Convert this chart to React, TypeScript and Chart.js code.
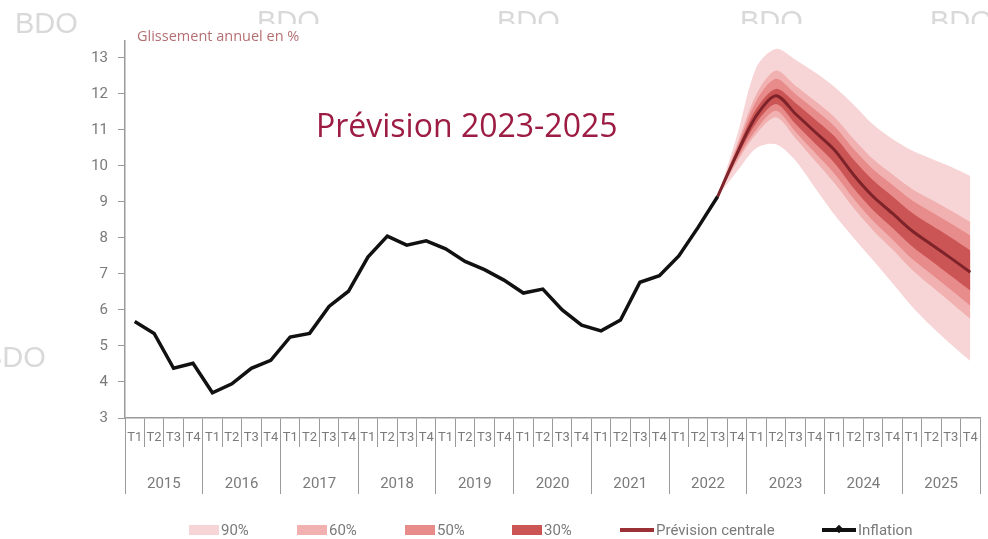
import React, { useEffect, useRef } from 'react';
import { Chart, registerables } from 'chart.js';

Chart.register(...registerables);

// ---------- data ----------
const years = ['2015', '2016', '2017', '2018', '2019', '2020', '2021', '2022', '2023', '2024', '2025'];
const quarters = ['T1', 'T2', 'T3', 'T4'];

// Observed inflation, T1 2015 .. T3 2022 (annual change, %)
const inflation = [
  5.68, 5.35, 4.38, 4.52,
  3.7, 3.95, 4.38, 4.6,
  5.25, 5.35, 6.1, 6.52,
  7.47, 8.05, 7.8, 7.92,
  7.7, 7.35, 7.12, 6.83,
  6.47, 6.58, 6.0, 5.58,
  5.42, 5.72, 6.77, 6.95,
  7.5, 8.3, 9.15,
];

// Forecast, T3 2022 .. T4 2025
const central = [9.15, 10.35, 11.4, 11.95, 11.45, 10.95, 10.45, 9.75, 9.15, 8.68, 8.2, 7.82, 7.44, 7.05];
const band90Up = [9.15, 10.85, 12.75, 13.25, 12.95, 12.6, 12.2, 11.7, 11.15, 10.75, 10.43, 10.2, 9.98, 9.72];
const band90Lo = [9.15, 9.85, 10.5, 10.6, 10.15, 9.4, 8.65, 8.0, 7.38, 6.74, 6.1, 5.55, 5.05, 4.58];
const band60Up = [9.15, 10.61, 12.0, 12.65, 12.23, 11.81, 11.36, 10.75, 10.19, 9.76, 9.36, 9.06, 8.76, 8.44];
const band60Lo = [9.15, 10.11, 10.9, 11.35, 10.77, 10.15, 9.53, 8.83, 8.21, 7.68, 7.12, 6.66, 6.21, 5.75];
const band50Up = [9.15, 10.53, 11.82, 12.42, 12.0, 11.57, 11.11, 10.47, 9.91, 9.47, 9.05, 8.72, 8.4, 8.07];
const band50Lo = [9.15, 10.18, 11.02, 11.53, 10.95, 10.37, 9.79, 9.09, 8.47, 7.96, 7.42, 6.99, 6.56, 6.12];
const band30Up = [9.15, 10.45, 11.6, 12.14, 11.75, 11.3, 10.83, 10.17, 9.6, 9.15, 8.7, 8.35, 8.01, 7.65];
const band30Lo = [9.15, 10.25, 11.2, 11.72, 11.17, 10.63, 10.09, 9.38, 8.77, 8.28, 7.77, 7.36, 6.95, 6.54];

const yMin = 3;
const yMax = 13.47;

const title = 'Prévision 2023-2025';
const unitLabel = 'Glissement annuel en %';
const legendLabels = ['90%', '60%', '50%', '30%', 'Prévision centrale', 'Inflation'];

// ---------- styles ----------
const C90 = '#f7d4d5';
const C60 = '#f1b1b1';
const C50 = '#e88b8b';
const C30 = '#cb5555';
const CCENTRAL = '#7e2329';
const CINFL = '#111111';
const AXIS = '#9a9a9a';
const TEXT = '#7a7a7a';
const FONT = 'Roboto, "Open Sans", sans-serif';

const legendLeft = [189, 297, 405, 512, 620, 822];

export default function App() {
  const canvasRef = useRef<HTMLCanvasElement | null>(null);

  useEffect(() => {
    const canvas = canvasRef.current;
    if (!canvas) return;

    const categories: string[] = [];
    years.forEach(() => quarters.forEach((q) => categories.push(q)));
    const n = categories.length;
    const startF = inflation.length - 1;
    const pad = (arr: number[], start: number) => {
      const out: (number | null)[] = new Array(n).fill(null);
      arr.forEach((v, i) => (out[start + i] = v));
      return out;
    };

    const band = (data: number[], color: string, fill: number | false, order: number) => ({
      type: 'line' as const,
      data: pad(data, startF),
      borderWidth: 0,
      borderColor: color,
      backgroundColor: color,
      pointRadius: 0,
      tension: 0.3,
      fill,
      order,
      xAxisID: 'x',
      yAxisID: 'y',
    });

    const textPlugin = {
      id: 'texts',
      beforeDraw(chart: any) {
        const ctx = chart.ctx as CanvasRenderingContext2D;
        ctx.save();
        ctx.fillStyle = '#ffffff';
        ctx.fillRect(0, 0, chart.width, chart.height);
        ctx.fillStyle = '#d9d9d9';
        ctx.font = '29px "Liberation Sans", Arial, sans-serif';
        ctx.textBaseline = 'alphabetic';
        ctx.textAlign = 'left';
        ctx.fillText('BDO', 15, 33);
        ctx.fillText('BDO', -17, 367);
        ctx.beginPath();
        ctx.rect(0, 0, chart.width, 24);
        ctx.clip();
        [257, 497, 740, 930].forEach((x) => ctx.fillText('BDO', x, 31));
        ctx.restore();
      },
      afterDraw(chart: any) {
        const ctx = chart.ctx as CanvasRenderingContext2D;
        ctx.save();
        ctx.textAlign = 'left';
        ctx.textBaseline = 'middle';
        ctx.fillStyle = '#b56f72';
        ctx.font = '14.5px "Open Sans", sans-serif';
        ctx.fillText(unitLabel, 137, 37);
        ctx.fillStyle = '#9c1c43';
        ctx.font = '32px "Open Sans", sans-serif';
        ctx.textBaseline = 'alphabetic';
        ctx.fillText(title, 316, 137);
        ctx.restore();
      },
    };

    const chart = new Chart(canvas, {
      type: 'line',
      data: {
        labels: categories,
        datasets: [
          {
            label: 'Inflation',
            data: pad(inflation, 0),
            borderColor: CINFL,
            borderWidth: 3.5,
            pointRadius: 0,
            tension: 0,
            fill: false,
            order: 0,
            xAxisID: 'x',
            yAxisID: 'y',
          },
          {
            label: 'Prévision centrale',
            data: pad(central, startF),
            borderColor: CCENTRAL,
            borderWidth: 3,
            pointRadius: 0,
            tension: 0.3,
            fill: false,
            order: 1,
            xAxisID: 'x',
            yAxisID: 'y',
          },
          band(band30Up, C30, 3, 2),
          band(band30Lo, C30, false, 2),
          band(band50Up, C50, 5, 3),
          band(band50Lo, C50, false, 3),
          band(band60Up, C60, 7, 4),
          band(band60Lo, C60, false, 4),
          band(band90Up, C90, 9, 5),
          band(band90Lo, C90, false, 5),
        ] as any,
      },
      options: {
        responsive: false,
        devicePixelRatio: 1,
        animation: false,
        events: [],
        layout: { padding: { top: 41, right: 8, bottom: 45, left: 0 } },
        plugins: {
          legend: { display: false },
          tooltip: { enabled: false },
        },
        scales: {
          y: {
            type: 'linear',
            position: 'left',
            min: yMin,
            max: yMax,
            afterFit: (s: any) => {
              s.width = 125;
            },
            border: { display: true, color: AXIS, width: 1.5 },
            grid: { drawOnChartArea: false, drawTicks: true, tickLength: 7, color: AXIS },
            ticks: {
              stepSize: 1,
              includeBounds: false,
              padding: 10,
              color: TEXT,
              font: { family: FONT, size: 15 },
            },
          },
          x: {
            type: 'category',
            position: 'bottom',
            offset: true,
            weight: 0,
            afterFit: (s: any) => {
              s.height = 29;
            },
            border: { display: true, color: AXIS, width: 1.5 },
            grid: { offset: true, drawOnChartArea: false, drawTicks: true, tickLength: 29, color: AXIS },
            ticks: {
              autoSkip: false,
              maxRotation: 0,
              minRotation: 0,
              padding: -17,
              color: TEXT,
              font: { family: FONT, size: 13 },
            },
          },
          x2: {
            type: 'category',
            position: 'bottom',
            labels: years,
            offset: true,
            weight: 1,
            afterFit: (s: any) => {
              s.height = 47;
            },
            border: { display: false },
            grid: { offset: true, drawOnChartArea: false, drawTicks: true, tickLength: 47, color: AXIS },
            ticks: {
              autoSkip: false,
              maxRotation: 0,
              minRotation: 0,
              padding: -19,
              color: TEXT,
              font: { family: FONT, size: 15 },
            },
          },
        },
      } as any,
      plugins: [textPlugin],
    });

    return () => chart.destroy();
  }, []);

  const swatches = [C90, C60, C50, C30];

  return (
    <div style={{ position: 'absolute', left: 0, top: 0, width: 988, height: 539, background: '#fff', overflow: 'hidden' }}>
      <canvas ref={canvasRef} width={988} height={539} style={{ position: 'absolute', left: 0, top: 0 }} />
      {legendLabels.map((label, i) => (
        <div
          key={label}
          style={{
            position: 'absolute',
            left: legendLeft[i],
            top: 520,
            height: 20,
            display: 'flex',
            alignItems: 'center',
            fontFamily: FONT,
            fontSize: 15,
            color: TEXT,
            whiteSpace: 'nowrap',
          }}
        >
          {i < 4 ? (
            <span style={{ display: 'inline-block', width: 30, height: 10, background: swatches[i], marginRight: 2 }} />
          ) : (
            <span style={{ position: 'relative', display: 'inline-block', width: 34, height: 4, background: i === 4 ? '#9b3036' : CINFL, marginRight: 2 }}>
              {i === 5 ? (
                <span style={{ position: 'absolute', left: 14, top: -2, width: 6, height: 6, background: CINFL, transform: 'rotate(45deg)' }} />
              ) : null}
            </span>
          )}
          <span>{label}</span>
        </div>
      ))}
    </div>
  );
}
